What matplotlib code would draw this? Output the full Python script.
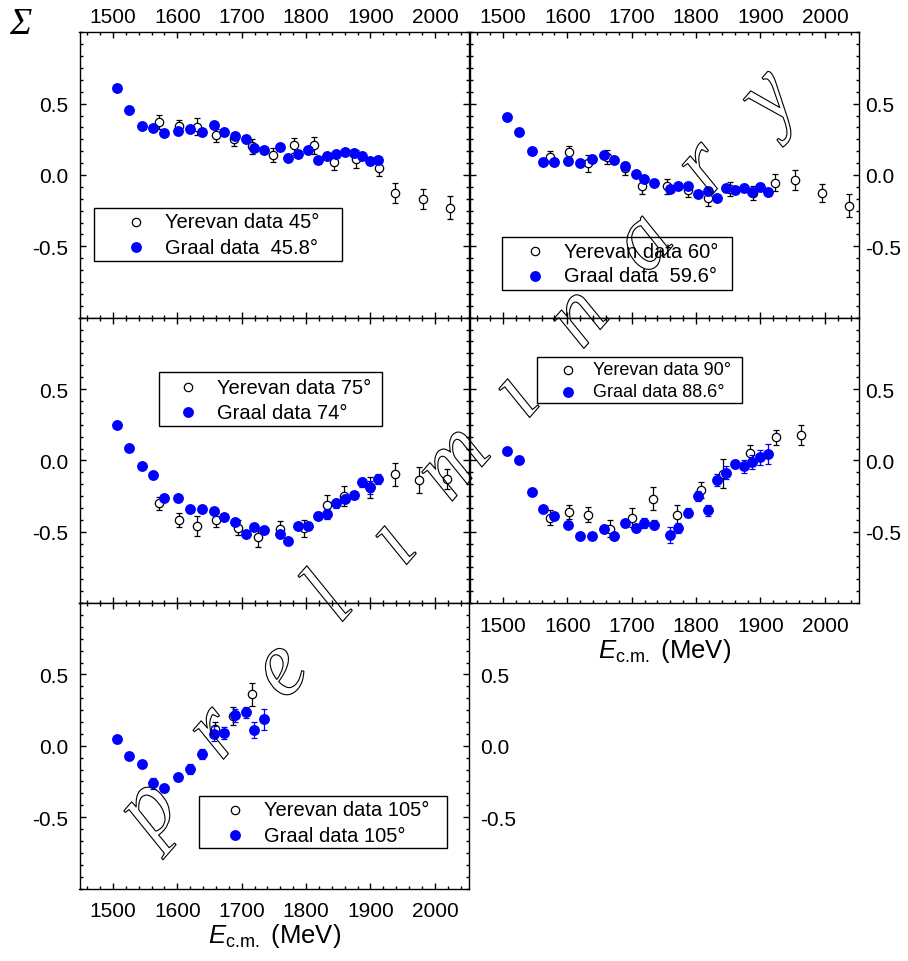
import matplotlib
matplotlib.use('Agg')
import matplotlib.pyplot as plt
import matplotlib.patheffects as pe
from matplotlib.ticker import MultipleLocator, FixedLocator, FormatStrFormatter
from matplotlib.patches import Rectangle
from matplotlib.lines import Line2D

plt.rcParams['font.family'] = ['Liberation Sans', 'DejaVu Sans']
plt.rcParams['mathtext.fontset'] = 'custom'
plt.rcParams['mathtext.rm'] = 'Liberation Sans'
plt.rcParams['mathtext.it'] = 'Liberation Sans:italic'
plt.rcParams['axes.unicode_minus'] = False

#####################################################
# Dados (energia em MeV, assimetria Sigma)
#####################################################
e_graal = [1506, 1525, 1545, 1562, 1580, 1601, 1620, 1639, 1657, 1673, 1690, 1706, 1719,
           1734, 1759, 1772, 1788, 1803, 1818, 1832, 1846, 1861, 1874, 1887, 1900, 1912]

# 45 / 45.8 graus
s_graal_45 = [0.607, 0.458, 0.342, 0.328, 0.293, 0.307, 0.321, 0.300, 0.351, 0.298, 0.272, 0.251, 0.186,
              0.174, 0.198, 0.119, 0.149, 0.177, 0.107, 0.135, 0.147, 0.158, 0.151, 0.135, 0.095, 0.107]
err_graal_45 = [0.015, 0.015, 0.015, 0.015, 0.015, 0.015, 0.015, 0.015, 0.015, 0.015, 0.02, 0.02, 0.02,
                0.02, 0.02, 0.02, 0.02, 0.02, 0.02, 0.02, 0.02, 0.02, 0.025, 0.025, 0.025, 0.025]
e_yer_45 = [1572, 1602, 1631, 1660, 1688, 1716, 1749, 1781, 1813, 1843, 1878, 1913, 1938, 1981, 2024]
s_yer_45 = [0.370, 0.342, 0.337, 0.277, 0.249, 0.200, 0.140, 0.209, 0.209, 0.088, 0.112, 0.051, -0.128, -0.167, -0.228]
err_yer_45 = [0.049, 0.044, 0.060, 0.047, 0.043, 0.050, 0.049, 0.052, 0.060, 0.055, 0.060, 0.060, 0.070, 0.070, 0.079]

# 60 / 59.6 graus
s_graal_60 = [0.407, 0.298, 0.165, 0.091, 0.093, 0.100, 0.081, 0.112, 0.142, 0.107, 0.065, 0.007, -0.028,
              -0.053, -0.098, -0.077, -0.079, -0.133, -0.112, -0.163, -0.093, -0.102, -0.088, -0.116, -0.081, -0.121]
err_graal_60 = [0.015, 0.015, 0.015, 0.015, 0.015, 0.015, 0.015, 0.015, 0.015, 0.015, 0.02, 0.02, 0.02,
                0.02, 0.02, 0.02, 0.02, 0.02, 0.02, 0.02, 0.02, 0.02, 0.025, 0.025, 0.025, 0.025]
e_yer_60 = [1573, 1603, 1632, 1661, 1689, 1716, 1754, 1787, 1818, 1853, 1889, 1923, 1953, 1996, 2038]
s_yer_60 = [0.126, 0.160, 0.081, 0.128, 0.047, -0.079, -0.079, -0.107, -0.158, -0.098, -0.126, -0.053, -0.037, -0.128, -0.216]
err_yer_60 = [0.040, 0.044, 0.060, 0.049, 0.047, 0.056, 0.052, 0.050, 0.060, 0.049, 0.051, 0.058, 0.071, 0.062, 0.081]

# 75 / 74 graus
s_graal_74 = [0.248, 0.086, -0.037, -0.103, -0.266, -0.264, -0.343, -0.339, -0.357, -0.397, -0.435, -0.516, -0.470,
              -0.491, -0.516, -0.568, -0.458, -0.458, -0.388, -0.374, -0.301, -0.269, -0.245, -0.154, -0.189, -0.129]
err_graal_74 = [0.015, 0.015, 0.015, 0.015, 0.015, 0.015, 0.015, 0.015, 0.015, 0.015, 0.02, 0.02, 0.02,
                0.02, 0.02, 0.02, 0.02, 0.025, 0.025, 0.035, 0.03, 0.025, 0.025, 0.03, 0.045, 0.035]
e_yer_75 = [1572, 1602, 1631, 1660, 1694, 1726, 1759, 1796, 1832, 1859, 1899, 1938, 1976, 2019]
s_yer_75 = [-0.301, -0.418, -0.458, -0.418, -0.472, -0.540, -0.479, -0.477, -0.311, -0.250, -0.190, -0.098, -0.138, -0.129]
err_yer_75 = [0.045, 0.051, 0.070, 0.048, 0.053, 0.065, 0.055, 0.058, 0.067, 0.070, 0.071, 0.079, 0.090, 0.070]

# 90 / 88.6 graus
s_graal_88 = [0.063, 0.000, -0.219, -0.343, -0.389, -0.452, -0.529, -0.529, -0.478, -0.531, -0.441, -0.473, -0.438,
              -0.450, -0.524, -0.476, -0.366, -0.252, -0.350, -0.138, -0.086, -0.026, -0.040, -0.012, 0.021, 0.042]
err_graal_88 = [0.02, 0.02, 0.02, 0.02, 0.02, 0.02, 0.02, 0.02, 0.025, 0.025, 0.025, 0.03, 0.035,
                0.03, 0.058, 0.035, 0.03, 0.035, 0.04, 0.04, 0.045, 0.03, 0.045, 0.05, 0.05, 0.07]
e_yer_90 = [1573, 1603, 1632, 1667, 1700, 1733, 1770, 1808, 1842, 1883, 1924, 1963]
s_yer_90 = [-0.401, -0.359, -0.380, -0.478, -0.401, -0.268, -0.380, -0.207, -0.093, 0.051, 0.161, 0.179]
err_yer_90 = [0.050, 0.049, 0.050, 0.062, 0.064, 0.082, 0.070, 0.058, 0.100, 0.056, 0.052, 0.072]

# 105 graus
e_graal_105 = [1506, 1525, 1545, 1562, 1580, 1601, 1620, 1639, 1657, 1673, 1690, 1706, 1719, 1734]
s_graal_105 = [0.047, -0.070, -0.126, -0.264, -0.299, -0.222, -0.164, -0.056, 0.086, 0.091, 0.213, 0.234, 0.110, 0.185]
err_graal_105 = [0.02, 0.02, 0.02, 0.04, 0.025, 0.025, 0.035, 0.035, 0.05, 0.04, 0.045, 0.04, 0.058, 0.072]
e_yer_105 = [1659, 1687, 1716]
s_yer_105 = [0.121, 0.210, 0.360]
err_yer_105 = [0.047, 0.061, 0.079]

labels_yer = ['Yerevan data 45°', 'Yerevan data 60°', 'Yerevan data 75°', 'Yerevan data 90°', 'Yerevan data 105°']
labels_graal = ['Graal data  45.8°', 'Graal data  59.6°', 'Graal data 74°', 'Graal data 88.6°', 'Graal data 105°']

#####################################################
W, H = 908, 962
fig = plt.figure(figsize=(W / 100, H / 100), dpi=100)

def fx(px):
    return px / W

def fy(py):
    return 1 - py / H

col_px = [79.5, 469.5]
row_px = [33.3, 318.7, 604.1]
ax_w, ax_h = 389.5, 285.4

# (coluna, linha, graal E, graal S, graal err, yer E, yer S, yer err, rotulos x topo/baixo, y esq/dir)
paineis = [
    (0, 0, e_graal, s_graal_45, err_graal_45, e_yer_45, s_yer_45, err_yer_45, 'top', (True, False)),
    (1, 0, e_graal, s_graal_60, err_graal_60, e_yer_60, s_yer_60, err_yer_60, 'top', (False, True)),
    (0, 1, e_graal, s_graal_74, err_graal_74, e_yer_75, s_yer_75, err_yer_75, None, (True, False)),
    (1, 1, e_graal, s_graal_88, err_graal_88, e_yer_90, s_yer_90, err_yer_90, 'bottom', (False, True)),
    (0, 2, e_graal_105, s_graal_105, err_graal_105, e_yer_105, s_yer_105, err_yer_105, 'bottom', (True, True)),
]

# caixas das legendas: (x0, y0, x1, y1, x marcador, x texto, y linha1, y linha2, fonte)
legendas = [
    (94.3, 209.0, 341.7, 262.3, 136.0, 165.0, 222.7, 248.0, 14.5),
    (501.7, 237.7, 732.3, 290.7, 535.3, 564.3, 252.3, 276.7, 14.5),
    (159.3, 373.3, 381.7, 426.7, 188.3, 217.3, 388.3, 413.3, 14.5),
    (537.0, 358.3, 742.3, 404.3, 568.3, 592.7, 371.0, 392.7, 13.0),
    (199.3, 797.3, 446.7, 849.3, 234.7, 264.0, 810.7, 836.0, 14.5),
]

for i, (c, r, eg, sg, dg, ey, sy, dy, xlab, ylab) in enumerate(paineis):
    x0 = col_px[c]
    y0 = row_px[r]
    ax = fig.add_axes([fx(x0), fy(y0 + ax_h), ax_w / W, ax_h / H])

    ax.errorbar(ey, sy, yerr=dy, fmt='o', ms=6, mfc='white', mec='black', mew=0.9,
                ecolor='black', elinewidth=0.9, capsize=2.5, capthick=0.9, zorder=2)
    ax.errorbar(eg, sg, yerr=dg, fmt='o', ms=6.8, color='#0000ff', mec='#0000ff',
                ecolor='#0000ff', elinewidth=0.9, capsize=2.5, capthick=0.9, zorder=3)

    ax.set_xlim(1448, 2053)
    ax.set_ylim(-1, 1)
    ax.xaxis.set_major_locator(MultipleLocator(100))
    ax.xaxis.set_minor_locator(MultipleLocator(20))
    ax.yaxis.set_major_locator(FixedLocator([-0.5, 0.0, 0.5]))
    ax.yaxis.set_minor_locator(MultipleLocator(1 / 12))
    ax.yaxis.set_major_formatter(FormatStrFormatter('%.1f'))
    for s in ax.spines.values():
        s.set_linewidth(1.0)

    ax.tick_params(which='both', direction='in', top=True, bottom=True, left=True, right=True,
                   labeltop=(xlab == 'top'), labelbottom=(xlab == 'bottom'),
                   labelleft=ylab[0], labelright=ylab[1], labelsize=15, width=1.0)
    ax.tick_params(which='major', length=4.5)
    ax.tick_params(which='minor', length=2.5)
    ax.tick_params(axis='y', which='major', pad=4.5)
    ax.tick_params(axis='x', which='major', pad=(4.5 if xlab == 'top' else 9))
    # rotulos da esquerda mais afastados
    if ylab[0]:
        for t in ax.yaxis.get_major_ticks():
            t.set_pad(8)
            t.label2.set_visible(ylab[1])

    if xlab == 'bottom':
        ax.set_xlabel(r'$E_{\mathrm{c.\!m.}}$ (MeV)', fontsize=18.5, labelpad=1)

    # legenda desenhada em pixels da figura
    bx0, by0, bx1, by1, mkx, txx, ry1, ry2, fs = legendas[i]
    fig.add_artist(Rectangle((fx(bx0), fy(by1)), fx(bx1) - fx(bx0), fy(by0) - fy(by1),
                             transform=fig.transFigure, facecolor='white', edgecolor='black',
                             linewidth=1.0, zorder=4))
    fig.add_artist(Line2D([fx(mkx)], [fy(ry1)], marker='o', ms=6, mfc='white', mec='black',
                          mew=0.9, linestyle='none', transform=fig.transFigure, zorder=5))
    fig.add_artist(Line2D([fx(mkx)], [fy(ry2)], marker='o', ms=6.8, mfc='#0000ff', mec='#0000ff',
                          linestyle='none', transform=fig.transFigure, zorder=5))
    fig.text(fx(txx), fy(ry1), labels_yer[i], fontsize=fs, va='center', ha='left', zorder=5)
    fig.text(fx(txx), fy(ry2), labels_graal[i], fontsize=fs, va='center', ha='left', zorder=5)

# Sigma no canto
fig.text(fx(9), fy(7), 'Σ', fontsize=27, family=['Liberation Serif', 'DejaVu Serif'],
         style='italic', ha='left', va='top')

# marca d'agua "preliminary" (letras vazadas)
letras = ['p', 'r', 'e', 'l', 'ı', 'm', 'ı', 'n', 'a', 'r', 'y']
pos_letras = [(150, 812), (216, 735), (282, 673), (331, 602), (395, 545), (455, 465),
              (518, 398), (580, 320), (645, 245), (705, 170), (770, 100)]
for ch, (lx, ly) in zip(letras, pos_letras):
    fig.text(fx(lx), fy(ly), ch, fontsize=66, family=['Liberation Serif', 'DejaVu Serif'],
             style='italic', rotation=49, rotation_mode='anchor', ha='center', va='center',
             color='none', zorder=10,
             path_effects=[pe.Stroke(linewidth=0.8, foreground='black')])

fig.savefig('out.png', dpi=100)
